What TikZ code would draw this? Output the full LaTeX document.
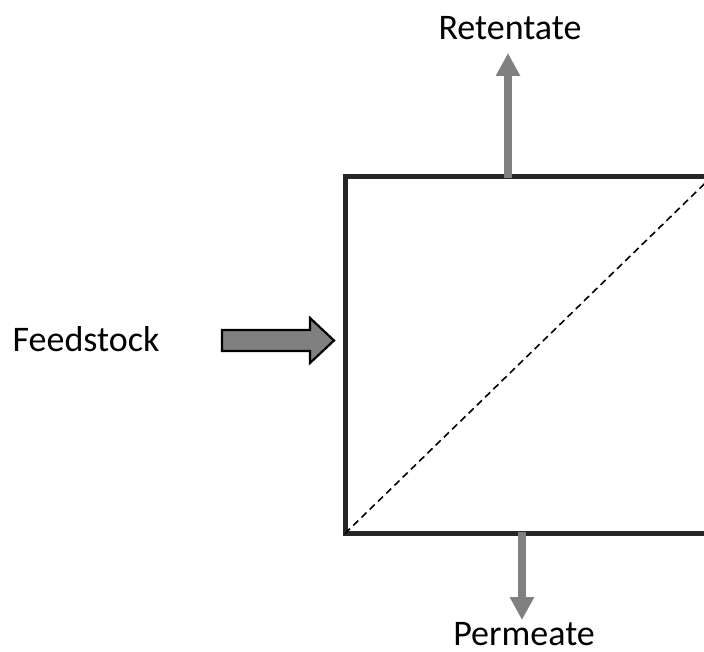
\documentclass[tikz,border=0pt]{standalone}
\usepackage{fontspec}
\setmainfont{Carlito}
\usetikzlibrary{arrows.meta}
\definecolor{boxline}{HTML}{262626}
\definecolor{flowgray}{HTML}{808080}
\tikzset{
  lbl/.style={font=\fontsize{36}{42}\selectfont, anchor=base, inner sep=0pt},
  flow/.style={draw=flowgray, line width=8.5pt, -{Triangle[length=23pt,width=23pt]}},
  membrane/.style={draw=black, line width=1.6pt, dash pattern=on 7pt off 4.5pt},
  vessel/.style={draw=boxline, line width=5pt},
  feedarrow/.style={draw=black, line width=2.2pt, fill=flowgray, line join=miter}
}
\begin{document}
\begin{tikzpicture}[x=1pt,y=-1pt]
\useasboundingbox (0,0) rectangle (704,652);
\clip (0,0) rectangle (704,652);
% vessel
\draw[vessel] (345,176.5) rectangle (712,533.5);
\coordinate (bl) at (345,533.5);
\coordinate (tr) at (712,176.5);
\draw[membrane] (bl) -- (tr);
% labels
\node[lbl] (ret) at (510,40) {Retentate};
\node[lbl] (per) at (524,645) {Permeate};
\node[lbl] (feed) at (86,351) {Feedstock};
% retentate flow
\coordinate (rs) at (508,178);
\coordinate (re) at (508,53);
\draw[flow] (rs) -- (re);
% permeate flow
\coordinate (ps) at (522,532);
\coordinate (pe) at (522,620);
\draw[flow] (ps) -- (pe);
% feed block arrow
\draw[feedarrow] (222,330) -- (310,330) -- (310,318) -- (334,340.5) -- (310,363) -- (310,351) -- (222,351) -- cycle;
\end{tikzpicture}
\end{document}
